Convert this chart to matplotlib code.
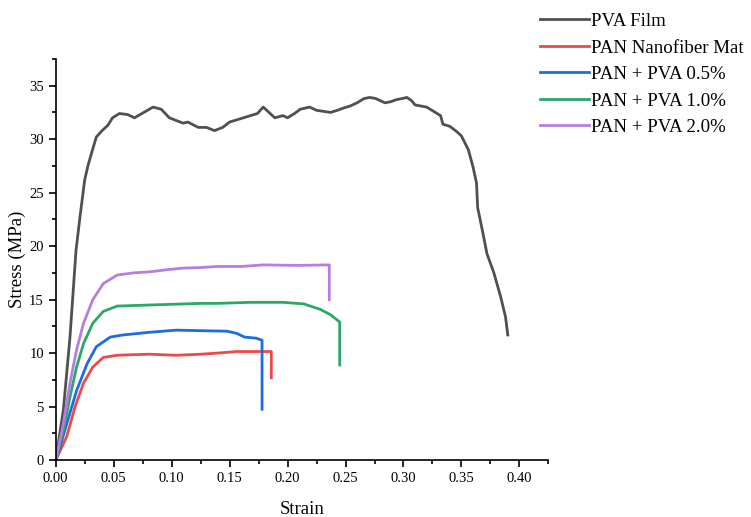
import matplotlib.pyplot as plt
from matplotlib.ticker import MultipleLocator

plt.rcParams['font.family'] = ['Liberation Serif', 'DejaVu Serif']

# stress-strain curves, strain (-) vs stress (MPa)
pva_x = [0, 0.0066, 0.0123, 0.0175, 0.021, 0.025, 0.028, 0.032, 0.035, 0.040,
         0.045, 0.049, 0.055, 0.062, 0.068, 0.076, 0.084, 0.091, 0.098, 0.105,
         0.110, 0.114, 0.123, 0.130, 0.137, 0.144, 0.150, 0.156, 0.162, 0.168,
         0.174, 0.179, 0.184, 0.189, 0.196, 0.200, 0.206, 0.211, 0.219, 0.225,
         0.231, 0.237, 0.243, 0.248, 0.254, 0.260, 0.266, 0.271, 0.276, 0.280,
         0.284, 0.289, 0.294, 0.299, 0.303, 0.307, 0.310, 0.315, 0.320, 0.326,
         0.332, 0.334, 0.340, 0.346, 0.350, 0.356, 0.360, 0.363, 0.364, 0.368,
         0.372, 0.378, 0.384, 0.388, 0.390]
pva_y = [0, 4.7, 11.5, 19.6, 22.8, 26.2, 27.6, 29.1, 30.2, 30.8,
         31.3, 32.0, 32.4, 32.3, 32.0, 32.5, 33.0, 32.8, 32.0, 31.7,
         31.5, 31.6, 31.1, 31.1, 30.8, 31.1, 31.6, 31.8, 32.0, 32.2,
         32.4, 33.0, 32.5, 32.0, 32.2, 32.0, 32.4, 32.8, 33.0, 32.7,
         32.6, 32.5, 32.7, 32.9, 33.1, 33.4, 33.8, 33.9, 33.8, 33.6,
         33.4, 33.5, 33.7, 33.8, 33.9, 33.6, 33.2, 33.1, 33.0, 32.6,
         32.2, 31.4, 31.2, 30.7, 30.3, 29.0, 27.4, 25.9, 23.6, 21.5,
         19.3, 17.5, 15.2, 13.4, 11.7]

pan_x = [0, 0.0095, 0.0167, 0.024, 0.032, 0.041, 0.053, 0.065, 0.081, 0.104,
         0.125, 0.139, 0.156, 0.186, 0.186]
pan_y = [0, 2.2, 5.0, 7.2, 8.7, 9.6, 9.8, 9.85, 9.9, 9.8,
         9.9, 10.0, 10.15, 10.15, 7.7]

p05_x = [0, 0.002, 0.0095, 0.018, 0.027, 0.035, 0.047, 0.058, 0.081, 0.104,
         0.125, 0.148, 0.156, 0.163, 0.173, 0.178, 0.178]
p05_y = [0, 0.6, 3.4, 6.5, 9.0, 10.6, 11.5, 11.7, 11.95, 12.15,
         12.1, 12.05, 11.85, 11.5, 11.4, 11.2, 4.75]

p10_x = [0, 0.0066, 0.0123, 0.018, 0.024, 0.032, 0.041, 0.053, 0.081, 0.125,
         0.139, 0.168, 0.196, 0.214, 0.228, 0.237, 0.245, 0.245]
p10_y = [0, 2.8, 5.9, 8.7, 10.9, 12.8, 13.9, 14.4, 14.5, 14.65,
         14.65, 14.75, 14.75, 14.6, 14.1, 13.6, 12.9, 8.9]

p20_x = [0, 0.0066, 0.0123, 0.018, 0.024, 0.032, 0.041, 0.053, 0.067, 0.081,
         0.096, 0.110, 0.125, 0.139, 0.160, 0.179, 0.208, 0.236, 0.236]
p20_y = [0, 3.4, 7.2, 10.3, 12.8, 15.0, 16.5, 17.3, 17.5, 17.6,
         17.8, 17.95, 18.0, 18.1, 18.1, 18.25, 18.2, 18.25, 15.0]

labels = ['PVA Film', 'PAN Nanofiber Mat', 'PAN + PVA 0.5%',
          'PAN + PVA 1.0%', 'PAN + PVA 2.0%']
colors = ['#505050', '#f04848', '#1f6be0', '#2ba865', '#b57ee0']
series = [(pva_x, pva_y), (pan_x, pan_y), (p05_x, p05_y),
          (p10_x, p10_y), (p20_x, p20_y)]

fig = plt.figure(figsize=(7.51, 5.17), dpi=100)
ax = fig.add_axes([0.0742, 0.110, 0.656, 0.776])

for (x, y), c, lab in zip(series, colors, labels):
    ax.plot(x, y, color=c, lw=2, label=lab)

ax.set_xlim(0, 0.425)
ax.set_ylim(0, 37.5)
ax.xaxis.set_major_locator(MultipleLocator(0.05))
ax.xaxis.set_minor_locator(MultipleLocator(0.025))
ax.yaxis.set_major_locator(MultipleLocator(5))
ax.yaxis.set_minor_locator(MultipleLocator(2.5))
ax.set_xticks([0, 0.05, 0.1, 0.15, 0.2, 0.25, 0.3, 0.35, 0.4])
ax.set_xticklabels(['0.00', '0.05', '0.10', '0.15', '0.20', '0.25', '0.30', '0.35', '0.40'])
ax.tick_params(which='major', length=5, width=1.2, labelsize=10.5, color='black')
ax.tick_params(which='minor', length=3, width=1.2)
ax.spines['top'].set_visible(False)
ax.spines['right'].set_visible(False)
for s in ['left', 'bottom']:
    ax.spines[s].set_linewidth(1.2)

ax.set_xlabel('Strain', fontsize=13.5, va='center')
ax.xaxis.set_label_coords(0.5, -0.122)
ax.set_ylabel('Stress (MPa)', fontsize=13.5, va='center')
ax.yaxis.set_label_coords(-0.077, 0.5)

fig.legend(loc='upper left', bbox_to_anchor=(0.697, 1.008), frameon=False,
           fontsize=13.6, handlelength=2.55, handletextpad=0.15, labelspacing=0.49)

fig.savefig('out.png', dpi=100)
